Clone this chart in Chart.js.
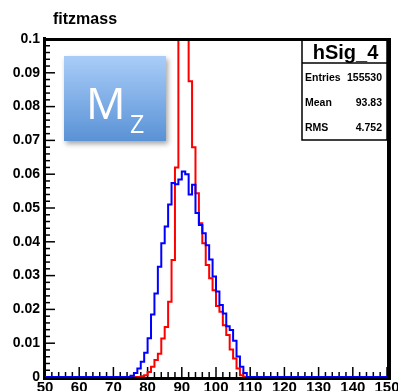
<!DOCTYPE html>
<html>
<head>
<meta charset="utf-8">
<script src="https://cdn.jsdelivr.net/npm/chart.js@4.4.1/dist/chart.umd.min.js"></script>
<style>
  html, body { margin: 0; padding: 0; background: #fff; }
  canvas { display: block; }
</style>
</head>
<body>
<canvas id="massChart" width="398" height="391"></canvas>
<script>
// fitted Z mass, 1 GeV bins between 50 and 150
var xMin = 50;
var xMax = 150;
var xTickStep = 10;
var yMax = 0.1;
var yTickStep = 0.01;

// bins outside these ranges are empty
var blueFirstBin = 76;
var blueValues = [
    0.0004, 0.0012, 0.0025, 0.0045, 0.0072, 0.0115, 0.0185, 0.0247, 0.0326, 0.0396,
    0.0445, 0.0510, 0.0574, 0.0570, 0.0584, 0.0608, 0.0600, 0.0540, 0.0569, 0.0485,
    0.0450, 0.0425, 0.0390, 0.0348, 0.0297, 0.0253, 0.0213, 0.0188, 0.0150, 0.0139,
    0.0107, 0.0061, 0.0030, 0.0012
];
var redFirstBin = 79;
var redValues = [
    0.0002, 0.0005, 0.0015, 0.0030, 0.0050, 0.0069, 0.0114, 0.0148, 0.0223, 0.0346,
    0.0620, 0.1120, 0.1380, 0.1200, 0.0875, 0.0680, 0.0544, 0.0455, 0.0396, 0.0331,
    0.0292, 0.0257, 0.0210, 0.0193, 0.0153, 0.0124, 0.0081, 0.0055, 0.0025, 0.0005
];

var histTitle = 'fitzmass';
var statsName = 'hSig_4';
var statsLabels = ['Entries', 'Mean', 'RMS'];
var statsValues = ['155530', '93.83', '4.752'];

var boldFont = '"Liberation Sans", Arial, sans-serif';

// one point per bin low edge, plus the closing edge, for a stepped outline
function stepPoints(firstBin, values) {
    var pts = [];
    for (var k = xMin; k < xMax; k++) {
        var i = k - firstBin;
        var v = (i >= 0 && i < values.length) ? values[i] : 0;
        pts.push({x: k, y: v});
    }
    pts.push({x: xMax, y: pts[pts.length - 1].y});
    return pts;
}

var framePlugin = {
    id: 'rootFrame',
    beforeDatasetsDraw: function(chart) {
        var c = chart.ctx;
        var a = chart.chartArea;
        var xs = chart.scales.x;
        var ys = chart.scales.y;
        c.save();

        c.fillStyle = '#000';
        c.font = 'bold 16px ' + boldFont;
        c.textAlign = 'left';
        c.textBaseline = 'alphabetic';
        c.fillText(histTitle, 53, 24);

        c.strokeStyle = '#000';
        c.lineWidth = 1.5;
        var yMinor = yTickStep / 5;
        var nY = Math.round(yMax / yMinor);
        for (var i = 0; i <= nY; i++) {
            var py = ys.getPixelForValue(i * yMinor);
            var len = (i % 5 === 0) ? 10 : 5;
            c.beginPath();
            c.moveTo(a.left, py);
            c.lineTo(a.left + len, py);
            c.stroke();
        }
        var xMinor = xTickStep / 5;
        for (var v = xMin; v <= xMax; v += xMinor) {
            var px = xs.getPixelForValue(v);
            var h = ((v - xMin) % xTickStep === 0) ? 10 : 5;
            c.beginPath();
            c.moveTo(px, a.bottom);
            c.lineTo(px, a.bottom - h);
            c.stroke();
        }

        c.lineWidth = 3;
        c.beginPath();
        c.moveTo(a.left - 0.5, a.top - 2);
        c.lineTo(a.left - 0.5, a.bottom + 3);
        c.moveTo(a.left - 2, a.bottom + 1.5);
        c.lineTo(a.right + 3, a.bottom + 1.5);
        c.stroke();
        c.restore();
    },
    afterDatasetsDraw: function(chart) {
        var c = chart.ctx;
        var a = chart.chartArea;
        c.save();

        // stats box in the upper right corner
        var bx = 302, by = a.top, bw = a.right - 302, bh = 101;
        c.fillStyle = '#fff';
        c.fillRect(bx, by, bw, bh);
        c.strokeStyle = '#000';
        c.lineWidth = 1.5;
        c.strokeRect(bx, by, bw, bh);
        c.beginPath();
        c.moveTo(bx, by + 24);
        c.lineTo(bx + bw, by + 24);
        c.stroke();

        c.fillStyle = '#000';
        c.textBaseline = 'alphabetic';
        c.textAlign = 'center';
        c.font = 'bold 20px ' + boldFont;
        c.fillText(statsName, bx + bw / 2 + 1, by + 20);
        c.font = 'bold 10.5px ' + boldFont;
        for (var i = 0; i < statsLabels.length; i++) {
            var ty = by + 42 + i * 25;
            c.textAlign = 'left';
            c.fillText(statsLabels[i], bx + 3, ty);
            c.textAlign = 'right';
            c.fillText(statsValues[i], bx + bw - 5, ty);
        }

        // top and right edges of the frame
        c.lineWidth = 3;
        c.beginPath();
        c.moveTo(a.left - 2, a.top + 0.5);
        c.lineTo(a.right + 4, a.top + 0.5);
        c.stroke();
        c.lineWidth = 4;
        c.beginPath();
        c.moveTo(a.right + 2, a.top - 1);
        c.lineTo(a.right + 2, a.bottom + 3);
        c.stroke();

        // M_Z label box
        c.save();
        c.shadowColor = 'rgba(0, 0, 0, 0.35)';
        c.shadowBlur = 5;
        c.shadowOffsetX = 2;
        c.shadowOffsetY = 3;
        var g = c.createLinearGradient(0, 56, 0, 141);
        g.addColorStop(0, '#a9cdf8');
        g.addColorStop(1, '#5a92d6');
        c.fillStyle = g;
        c.fillRect(64, 56, 102, 85);
        c.restore();
        c.fillStyle = '#fff';
        c.textAlign = 'left';
        c.font = '44px "Open Sans", sans-serif';
        c.fillText('M', 86, 119);
        c.font = '25px "Open Sans", sans-serif';
        c.fillText('Z', 130, 133);

        c.restore();
    }
};

var ctx = document.getElementById('massChart').getContext('2d');
var massChart = new Chart(ctx, {
    type: 'line',
    data: {
        datasets: [{
            data: stepPoints(blueFirstBin, blueValues),
            borderColor: '#0000ff',
            borderWidth: 2,
            stepped: 'after',
            pointRadius: 0,
            fill: false
        }, {
            data: stepPoints(redFirstBin, redValues),
            borderColor: '#ff0000',
            borderWidth: 2,
            stepped: 'after',
            pointRadius: 0,
            fill: false
        }]
    },
    options: {
        responsive: false,
        animation: false,
        devicePixelRatio: 1,
        layout: {
            padding: { top: 39, left: 0, right: 0, bottom: 0 }
        },
        plugins: {
            legend: { display: false },
            tooltip: { enabled: false }
        },
        scales: {
            x: {
                type: 'linear',
                min: xMin,
                max: xMax,
                grid: { display: false, drawTicks: false },
                border: { display: false },
                ticks: {
                    stepSize: xTickStep,
                    color: '#000',
                    font: { family: boldFont, size: 15, weight: 'bold' },
                    padding: 2,
                    maxRotation: 0,
                    autoSkip: false
                },
                afterFit: function(scale) {
                    scale.height = 14;
                    scale.paddingLeft = 0;
                    scale.paddingRight = 11;
                }
            },
            y: {
                min: 0,
                max: yMax,
                grid: { display: false, drawTicks: false },
                border: { display: false },
                ticks: {
                    stepSize: yTickStep,
                    color: '#000',
                    font: { family: boldFont, size: 14, weight: 'bold' },
                    padding: 5,
                    callback: function(v) { return String(+v.toFixed(2)); }
                },
                afterFit: function(scale) {
                    scale.width = 45;
                }
            }
        }
    },
    plugins: [framePlugin]
});
</script>
</body>
</html>
